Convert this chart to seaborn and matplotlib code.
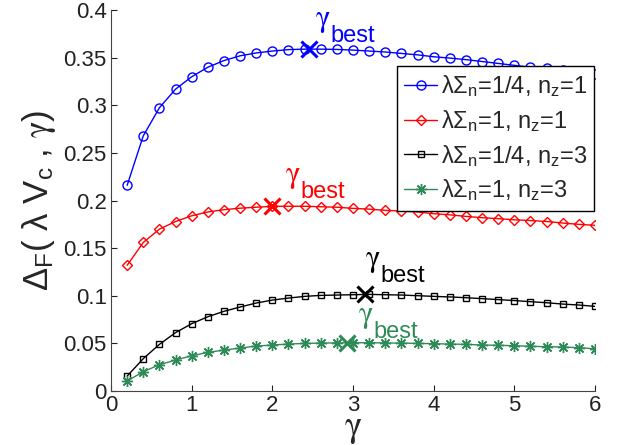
import matplotlib
matplotlib.use("Agg")
import matplotlib.pyplot as plt
import seaborn as sns
import numpy as np

# gamma grid and the four curves
gamma = [0.2, 0.4, 0.6, 0.8, 1.0, 1.2, 1.4, 1.6, 1.8, 2.0,
         2.2, 2.4, 2.6, 2.8, 3.0, 3.2, 3.4, 3.6, 3.8, 4.0,
         4.2, 4.4, 4.6, 4.8, 5.0, 5.2, 5.4, 5.6, 5.8, 6.0]

blue_vals = [0.216, 0.268, 0.2975, 0.317, 0.330, 0.340, 0.347, 0.352, 0.355, 0.357,
             0.3585, 0.359, 0.359, 0.3587, 0.358, 0.357, 0.356, 0.3545, 0.353, 0.351,
             0.3496, 0.348, 0.346, 0.344, 0.342, 0.340, 0.339, 0.337, 0.335, 0.333]
red_vals = [0.132, 0.156, 0.170, 0.178, 0.184, 0.188, 0.1904, 0.192, 0.193, 0.1939,
            0.194, 0.194, 0.1935, 0.193, 0.1918, 0.191, 0.1897, 0.189, 0.188, 0.1862,
            0.185, 0.1834, 0.182, 0.181, 0.1798, 0.179, 0.178, 0.1764, 0.175, 0.174]
black_vals = [0.0157, 0.034, 0.049, 0.0613, 0.0707, 0.078, 0.0837, 0.0882, 0.0924, 0.0955,
              0.0976, 0.0994, 0.1004, 0.1008, 0.1011, 0.1015, 0.1011, 0.1008, 0.1001, 0.0994,
              0.0988, 0.098, 0.097, 0.096, 0.095, 0.0938, 0.0927, 0.0913, 0.0903, 0.0889]
green_vals = [0.0105, 0.0203, 0.0276, 0.0325, 0.037, 0.0406, 0.043, 0.0451, 0.0472, 0.0483,
              0.0493, 0.050, 0.0504, 0.0505, 0.0507, 0.0507, 0.0505, 0.0503, 0.050, 0.0497,
              0.0493, 0.049, 0.0483, 0.048, 0.0476, 0.0469, 0.0466, 0.0462, 0.0455, 0.0444]

labels = [r'λΣ$_\mathregular{n}$=1/4, n$_\mathregular{z}$=1',
          r'λΣ$_\mathregular{n}$=1, n$_\mathregular{z}$=1',
          r'λΣ$_\mathregular{n}$=1/4, n$_\mathregular{z}$=3',
          r'λΣ$_\mathregular{n}$=1, n$_\mathregular{z}$=3']

# location of the best gamma on each curve
best_gamma = [2.45, 2.0, 3.15, 2.92]
best_vals = [0.359, 0.194, 0.1015, 0.0507]

colors = ['#0000ff', '#ff0000', '#000000', '#2e8b57']
markers = ['o', 'D', 's', (8, 2, 0)]
msizes = [6.5, 5.5, 4.5, 8]
# where the gamma_best labels go (left edge / baseline of the gamma)
label_pos = [(2.53, 0.383), (2.16, 0.219), (3.15, 0.131), (3.06, 0.072)]

GAM = r'$\mathrm{\gamma}$'

sns.set_style('ticks')
plt.rcParams['font.family'] = ['Liberation Sans', 'DejaVu Sans']
plt.rcParams['mathtext.fontset'] = 'stix'
plt.rcParams['mathtext.default'] = 'regular'

fig = plt.figure(figsize=(6.29, 4.45), dpi=100)
ax = fig.add_axes([0.1765, 0.1213, 0.7695, 0.856])

all_vals = [blue_vals, red_vals, black_vals, green_vals]
for j in range(4):
    sns.lineplot(x=gamma, y=all_vals[j], ax=ax, color=colors[j], marker=markers[j],
                 markersize=msizes[j], markerfacecolor='none', markeredgecolor=colors[j],
                 markeredgewidth=1.0, linewidth=1.0, label=labels[j])

for j in range(4):
    ax.plot(best_gamma[j], best_vals[j], marker='x', color=colors[j],
            markersize=12, markeredgewidth=2.2, linestyle='none')
    tx, ty = label_pos[j]
    ax.text(tx, ty, GAM, color=colors[j], fontsize=22, ha='left', va='baseline')
    ax.annotate('best', xy=(tx, ty), xytext=(11, -11), textcoords='offset points',
                color=colors[j], fontsize=17, ha='left', va='baseline')

ax.set_xlim(0, 6)
ax.set_ylim(0, 0.4)
ax.set_xticks([0, 1, 2, 3, 4, 5, 6])
ax.set_yticks([0, 0.05, 0.1, 0.15, 0.2, 0.25, 0.3, 0.35, 0.4])
ax.set_yticklabels(['0', '0.05', '0.1', '0.15', '0.2', '0.25', '0.3', '0.35', '0.4'])
ax.tick_params(direction='in', length=4, width=0.8, labelsize=16, pad=3, colors='#222222')
for s in ['top', 'right']:
    ax.spines[s].set_visible(False)
for s in ['left', 'bottom']:
    ax.spines[s].set_color('#444444')
    ax.spines[s].set_linewidth(0.8)

ax.set_xlabel(GAM, fontsize=26)
ax.set_ylabel(r'Δ$_\mathregular{F}$( λ V$_\mathregular{c}$ , ' + GAM + ')', fontsize=25)
ax.xaxis.label.set_va('baseline')
ax.xaxis.set_label_coords(0.5, -0.118)
ax.yaxis.set_label_coords(-0.11, 0.5)

leg = ax.legend(loc='upper left', bbox_to_anchor=(0.631, 0.852), bbox_transform=fig.transFigure,
                fontsize=17, frameon=True, fancybox=False, edgecolor='black', framealpha=1,
                handlelength=1.4, handletextpad=0.15, labelspacing=0.38, borderpad=0.3,
                borderaxespad=0)
leg.get_frame().set_linewidth(1.0)

fig.savefig('out.png', dpi=100)
